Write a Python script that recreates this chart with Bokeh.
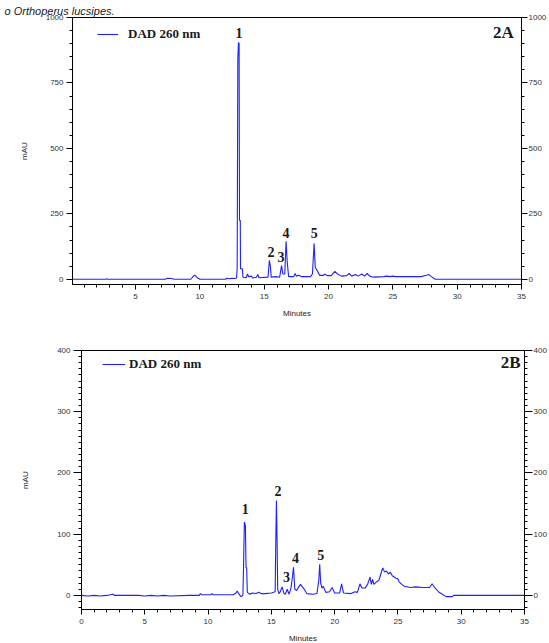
from bokeh.plotting import figure
from bokeh.models import (LinearAxis, SingleIntervalTicker, Range1d, Legend, LegendItem, Label, Title)
from bokeh.layouts import column, row
from bokeh.core.properties import value
from bokeh.embed import file_html
from bokeh.resources import INLINE

# ---------------- data: chromatogram 2A (DAD 260 nm) ----------------
a_time = [0.1, 2.7, 2.75, 2.8, 7.3, 7.5, 7.8, 8.0, 9.3, 9.5, 9.6, 9.8, 10.0, 12.0, 12.1, 12.3,
          12.5, 12.7, 12.85, 12.9, 12.95, 13.0, 13.05, 13.08, 13.14, 13.16, 13.3, 13.35, 13.6,
          13.7, 13.8, 14.0, 14.1, 14.4, 14.5, 14.6, 15.3, 15.4, 15.48, 15.55, 15.9, 16.2, 16.35,
          16.45, 16.6, 16.7, 16.8, 16.9, 17.3, 17.4, 17.5, 17.7, 17.9, 18.6, 18.75, 18.88, 18.97,
          19.1, 19.3, 19.6, 19.7, 19.9, 20.2, 20.5, 20.7, 21.0, 21.4, 21.6, 21.8, 22.1, 22.3,
          22.6, 22.8, 23.0, 23.2, 23.5, 24.3, 24.5, 24.8, 25.0, 25.2, 27.2, 27.6, 27.8, 28.0,
          28.3, 35.0]
a_mau = [0, 0, 3, 0, 0, 4, 3, 0, 0, 12, 16, 6, 0, 0, 4, 2,
         4, 3, 5, 40, 840, 905, 900, 225, 225, 40, 40, 8, 6,
         20, 10, 12, 5, 8, 18, 6, 8, 72, 50, 8, 10, 8, 52,
         20, 20, 145, 60, 10, 10, 22, 12, 15, 10, 10, 20, 137, 45,
         35, 15, 15, 20, 14, 14, 30, 20, 12, 14, 22, 12, 18, 12,
         20, 12, 22, 12, 8, 10, 12, 10, 12, 10, 10, 15, 18, 10,
         0, 0]
a_peak_t = [13.05, 15.52, 16.3, 16.7, 18.9]
a_peak_v = [942, 103, 84, 176, 176]
a_peak_lbl = ["1", "2", "3", "4", "5"]

# ---------------- data: chromatogram 2B (DAD 260 nm) ----------------
b_time = [0.0, 0.5, 1.0, 1.5, 2.0, 2.5, 2.6, 3.5, 4.5, 5.0, 5.5, 6.0, 6.5, 7.0, 8.5, 9.3, 9.4,
          9.5, 10.2, 10.3, 10.4, 12.0, 12.2, 12.3, 12.45, 12.6, 12.75, 12.8, 12.87, 12.95, 13.0,
          13.05, 13.1, 13.3, 13.5, 13.8, 14.0, 14.2, 14.5, 15.0, 15.3, 15.35, 15.4, 15.45, 15.5,
          15.6, 15.7, 15.85, 16.0, 16.1, 16.25, 16.4, 16.55, 16.65, 16.75, 16.85, 17.0, 17.1,
          17.3, 17.45, 17.6, 17.8, 18.3, 18.6, 18.75, 18.82, 18.9, 19.0, 19.1, 19.3, 19.6, 19.8,
          20.0, 20.4, 20.55, 20.7, 21.3, 21.6, 21.8, 22.0, 22.15, 22.4, 22.6, 22.8, 22.9, 23.0,
          23.1, 23.3, 23.5, 23.65, 23.8, 23.95, 24.1, 24.25, 24.4, 24.55, 24.7, 24.85, 25.0,
          25.1, 25.3, 25.5, 26.0, 26.4, 27.0, 27.5, 27.7, 27.9, 28.2, 28.5, 28.8, 29.3, 29.4, 35.0]
b_mau = [0, -1, 0, -1, 0, 2, 0, 0, 0, -1, 0, -1, 0, -1, 0, 0, 3,
         1, 1, 3, 1, 1, 4, 7, 2, -2, 0, 45, 120, 114, 45,
         45, 5, 2, 4, 3, 5, 3, 3, 4, 6, 88, 155, 94, 10,
         3, 6, 14, 3, 2, 10, 2, 12, 28, 46, 10, 8, 12,
         18, 14, 10, 3, 2, 3, 25, 51, 20, 12, 15, 5, 6, 13,
         4, 4, 19, 4, 3, 6, 5, 19, 12, 12, 18, 30, 18, 26,
         18, 22, 25, 35, 45, 38, 40, 35, 38, 32, 30, 28, 27,
         22, 18, 15, 13, 14, 13, 13, 19, 13, 6, 2, -2, -2, 0, 0]
b_peak_t = [12.94, 15.53, 16.19, 16.9, 18.91]
b_peak_v = [141, 170, 30, 61, 66]
b_peak_lbl = ["1", "2", "3", "4", "5"]

series_label = "DAD 260 nm"
x_label = "Minutes"
y_label = "mAU"
caption_fragment = "o Orthoperus lucsipes."

LINE = "#1f1fff"
AX_FONT = "Liberation Sans"
SERIF = "Liberation Serif"


def style_axis(ax, num_minor, interval, tick_out=5, minor_out=3):
    ax.ticker = SingleIntervalTicker(interval=interval, num_minor_ticks=num_minor)
    ax.axis_line_color = "black"
    ax.axis_line_width = 1
    ax.major_tick_line_color = "black"
    ax.minor_tick_line_color = "black"
    ax.major_tick_out = tick_out
    ax.major_tick_in = 0
    ax.minor_tick_out = minor_out
    ax.minor_tick_in = 0
    ax.major_label_text_font = AX_FONT
    ax.major_label_text_font_size = "8px"
    ax.major_label_text_color = "#333333"
    ax.major_label_standoff = 3
    ax.axis_label_text_font = AX_FONT
    ax.axis_label_text_font_size = "8px"
    ax.axis_label_text_font_style = "normal"
    ax.axis_label_text_color = "#222222"


def make_chart(t, v, pk_t, pk_v, pk_lbl, xr, yr, yint, yminor, frame_h, border_left,
               border_top, border_bottom, tag, tag_x, tag_y, leg_loc, leg_standoff,
               leg_glyph_w, ylabel_standoff, tick_out):
    p = figure(width=549, frame_height=frame_h, output_backend="svg", toolbar_location=None,
               x_range=Range1d(*xr), y_range=Range1d(*yr),
               min_border_left=border_left, min_border_right=0, min_border_top=border_top,
               min_border_bottom=border_bottom, background_fill_color="white",
               border_fill_color="white")
    p.grid.visible = False
    p.outline_line_color = "black"
    p.outline_line_width = 1

    style_axis(p.xaxis[0], 5, 5, tick_out=5)
    p.xaxis[0].axis_label = x_label
    p.xaxis[0].major_label_standoff = 4
    p.xaxis[0].axis_label_standoff = 7
    style_axis(p.yaxis[0], yminor, yint, tick_out=tick_out)
    p.yaxis[0].axis_label = y_label
    p.yaxis[0].axis_label_standoff = ylabel_standoff

    ry = LinearAxis()
    style_axis(ry, yminor, yint, tick_out=tick_out)
    ry.major_label_standoff = 1
    p.add_layout(ry, "right")

    r = p.line(t, v, line_color=LINE, line_width=1.1)

    p.text(x=pk_t, y=pk_v, text=pk_lbl, text_font=value(SERIF), text_font_style="bold",
           text_font_size="14px", text_align="center", text_baseline="middle",
           text_color="#1a1a1a")

    p.add_layout(Label(x=tag_x, y=tag_y, text=tag, text_font=SERIF, text_font_style="bold",
                       text_font_size="17px", text_align="center", text_baseline="middle",
                       text_color="#1a1a1a"))

    leg = Legend(items=[LegendItem(label=series_label, renderers=[r])], location=leg_loc,
                 border_line_alpha=0, background_fill_alpha=0, padding=0, margin=0,
                 glyph_width=leg_glyph_w, glyph_height=20, label_standoff=leg_standoff,
                 label_text_font=SERIF, label_text_font_style="bold",
                 label_text_font_size="13px", label_text_color="#1a1a1a")
    p.add_layout(leg)
    return p


top = make_chart(a_time, a_mau, a_peak_t, a_peak_v, a_peak_lbl, (0.1, 35), (-20, 1000),
                 250, 5, 267, 72, 17, 37, "2A", 33.6, 942, (25, 240), 10, 21, 14, 6)
# the caption line that sits just above the figure, kept fully visible in the top strip
top.add_layout(Title(text=caption_fragment, text_font="Liberation Sans",
                     text_font_style="italic", text_font_size="11px", align="left",
                     offset=-68, standoff=1, text_color="#1a1a1a"), "above")

bottom = make_chart(b_time, b_mau, b_peak_t, b_peak_v, b_peak_lbl, (0, 35), (-23, 400),
                    100, 10, 259, 81, 29, 34, "2B", 33.9, 380, (21, 235), 4, 23, 24, 8)

layout = column(row(top), row(bottom), spacing=0)
open("out.html", "w").write(file_html(layout, INLINE))
